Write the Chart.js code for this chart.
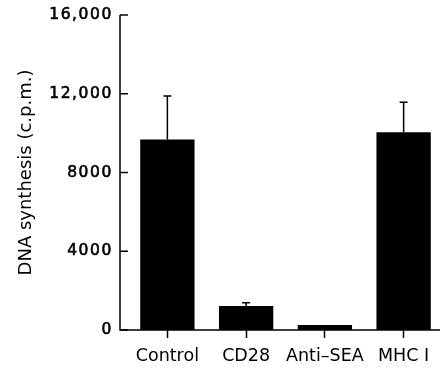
<!DOCTYPE html>
<html>
<head>
<title>DNA synthesis</title>
<script src="https://cdn.jsdelivr.net/npm/chart.js"></script>
<style>
  body { margin: 0; background: #fff; }
  #wrap { width: 443px; height: 370px; }
</style>
</head>
<body>
<div id="wrap"><canvas id="chart"></canvas></div>
<script>
const categories = ['Control', 'CD28', 'Anti\u2013SEA', 'MHC I'];
const dnaSynthesis = [9680, 1220, 250, 10040];
const errorUp = [2200, 170, 0, 1530];
const yTicks = [0, 4000, 8000, 12000, 16000];
const yTickLabels = ['0', '4000', '8000', '12,000', '16,000'];

// axes lines, inward y ticks, y labels and error bars
const axesPlugin = {
  id: 'axes',
  afterDatasetsDraw(chart) {
    const ctx = chart.ctx;
    const y = chart.scales.y;
    const area = chart.chartArea;
    const left = area.left - 8;
    const zero = y.getPixelForValue(0);
    ctx.save();
    ctx.strokeStyle = '#000';
    ctx.fillStyle = '#000';
    ctx.lineWidth = 1.5;
    ctx.beginPath();
    ctx.moveTo(left, y.getPixelForValue(16000));
    ctx.lineTo(left, zero);
    ctx.lineTo(area.right - 3, zero);
    ctx.stroke();

    yTicks.forEach((v) => {
      const py = y.getPixelForValue(v);
      ctx.beginPath();
      ctx.moveTo(left, py);
      ctx.lineTo(left + 8, py);
      ctx.stroke();
    });

    ctx.font = '15.5px "DejaVu Sans"';
    ctx.letterSpacing = '1.6px';
    ctx.textAlign = 'right';
    ctx.textBaseline = 'middle';
    ctx.lineWidth = 0.6;
    yTicks.forEach((v, i) => {
      const py = y.getPixelForValue(v);
      ctx.fillText(yTickLabels[i], left - 7, py);
      ctx.strokeText(yTickLabels[i], left - 7, py);
    });
    ctx.letterSpacing = '0px';
    ctx.lineWidth = 1.5;

    const meta = chart.getDatasetMeta(0);
    meta.data.forEach((bar, i) => {
      if (!errorUp[i]) return;
      const top = y.getPixelForValue(dnaSynthesis[i] + errorUp[i]);
      ctx.beginPath();
      ctx.moveTo(bar.x, bar.y);
      ctx.lineTo(bar.x, top);
      ctx.moveTo(bar.x - 4, top);
      ctx.lineTo(bar.x + 4, top);
      ctx.stroke();
    });
    ctx.restore();
  }
};

new Chart(document.getElementById('chart'), {
  type: 'bar',
  data: {
    labels: categories,
    datasets: [{
      data: dnaSynthesis,
      backgroundColor: '#000',
      borderWidth: 0,
      barPercentage: 0.69,
      categoryPercentage: 1
    }]
  },
  options: {
    responsive: true,
    maintainAspectRatio: false,
    animation: false,
    layout: { padding: { top: 15, right: 0, left: 0, bottom: 0 } },
    plugins: { legend: { display: false }, tooltip: { enabled: false } },
    scales: {
      x: {
        grid: { display: true, drawOnChartArea: false, offset: false, tickLength: 8, tickColor: '#000', tickWidth: 1.5 },
        border: { display: false },
        ticks: {
          color: '#000', padding: 8, maxRotation: 0, minRotation: 0, autoSkip: false,
          font: { family: 'DejaVu Sans', size: 17.5 }
        },
        afterFit(scale) { scale.height = 40; }
      },
      y: {
        min: 0,
        max: 16000,
        ticks: { display: false, stepSize: 4000 },
        grid: { display: false },
        border: { display: false },
        title: {
          display: true,
          text: 'DNA synthesis (c.p.m.)',
          color: '#000',
          font: { family: 'DejaVu Sans', size: 18 },
          padding: { top: 16, bottom: 0 }
        },
        afterFit(scale) { scale.width = 128; }
      }
    }
  },
  plugins: [axesPlugin]
});
</script>
</body>
</html>
